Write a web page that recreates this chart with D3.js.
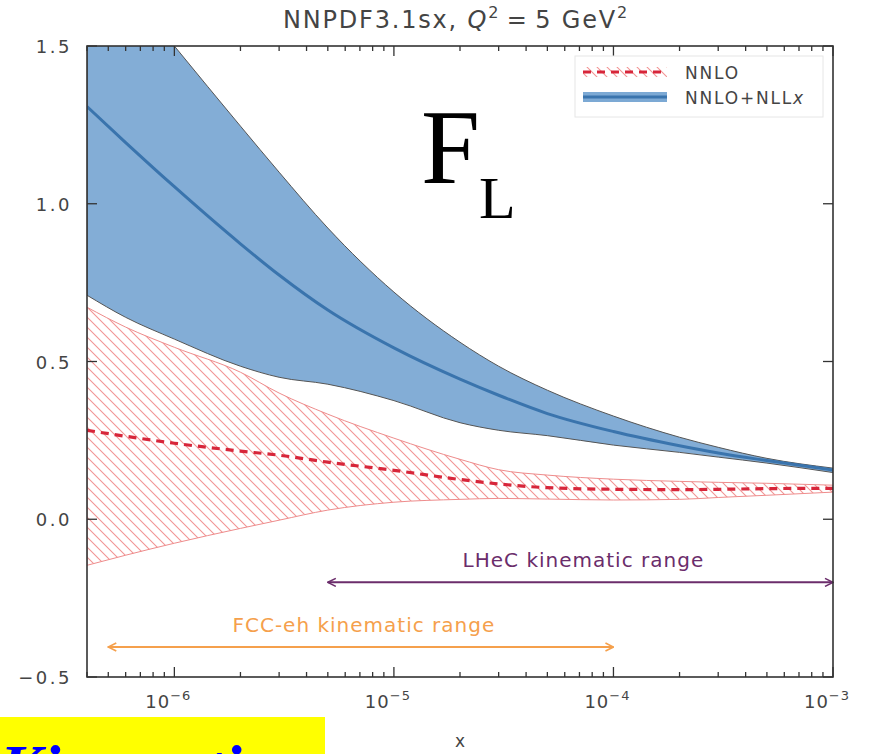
<!DOCTYPE html>
<html>
<head>
<meta charset="utf-8">
<script src="https://cdn.jsdelivr.net/npm/d3@7"></script>
<style>
  body { margin: 0; background: #fff; }
  svg { display: block; }
  text { font-family: "DejaVu Sans", sans-serif; fill: #444; }
</style>
</head>
<body>
<svg id="chart" width="874" height="754"></svg>
<script>
// x grid
var xs = [4e-7, 6e-7, 1e-6, 2e-6, 3e-6, 5e-6, 1e-5, 2e-5, 3e-5, 5e-5, 1e-4, 2e-4, 3e-4, 5e-4, 1e-3];
// NNLO+NLLx band
var resUp  = [1.84, 1.69, 1.50, 1.246, 1.10, 0.923, 0.72, 0.561, 0.485, 0.409, 0.327, 0.26, 0.228, 0.193, 0.162];
var resMid = [1.308, 1.194, 1.054, 0.873, 0.774, 0.663, 0.543, 0.444, 0.393, 0.335, 0.278, 0.233, 0.21, 0.186, 0.156];
var resLo  = [0.71, 0.64, 0.571, 0.485, 0.45, 0.428, 0.376, 0.306, 0.282, 0.265, 0.235, 0.212, 0.197, 0.178, 0.148];
// NNLO band
var nnloUp  = [0.672, 0.609, 0.545, 0.466, 0.40, 0.333, 0.257, 0.19, 0.157, 0.14, 0.127, 0.12, 0.117, 0.114, 0.108];
var nnloMid = [0.282, 0.263, 0.241, 0.216, 0.203, 0.181, 0.155, 0.126, 0.112, 0.1, 0.095, 0.094, 0.095, 0.097, 0.098];
var nnloLo  = [-0.146, -0.114, -0.076, -0.029, -0.003, 0.029, 0.054, 0.063, 0.066, 0.064, 0.061, 0.063, 0.069, 0.076, 0.086];

var yTicks = [-0.5, 0.0, 0.5, 1.0, 1.5];
var xMajor = [1e-6, 1e-5, 1e-4, 1e-3];
var xMajorExp = ["\u22126", "\u22125", "\u22124", "\u22123"];
// kinematic ranges: xmin, xmax, arrow y, label, colour, label y
var ranges = [
  [5e-6, 1e-3, -0.2, "LHeC kinematic range", "#6b2d6b", -0.152],
  [5e-7, 1e-4, -0.405, "FCC-eh kinematic range", "#f5a04c", -0.356]
];
var legendLabels = ["NNLO", "NNLO+NLL"];

var svg = d3.select("#chart");
var L = 87, R = 833, T = 46, B = 677;
var x = d3.scaleLog().domain([4e-7, 1e-3]).range([L, R]);
var y = d3.scaleLinear().domain([-0.5, 1.5]).range([B, T]);

var defs = svg.append("defs");
defs.append("clipPath").attr("id", "plotclip")
  .append("rect").attr("x", L).attr("y", T).attr("width", R - L).attr("height", B - T);
var hatch = defs.append("pattern").attr("id", "hatch")
  .attr("patternUnits", "userSpaceOnUse").attr("width", 10).attr("height", 10);
hatch.append("path").attr("d", "M0,0 L10,10 M-5,5 L5,15 M5,-5 L15,5")
  .attr("stroke", "#f29494").attr("stroke-width", 1.1);

var plot = svg.append("g").attr("clip-path", "url(#plotclip)");

function band(lo, hi) {
  return d3.area().curve(d3.curveMonotoneX)
    .x(function (d, i) { return x(xs[i]); })
    .y0(function (d, i) { return y(lo[i]); })
    .y1(function (d, i) { return y(hi[i]); })(xs);
}
function curve(v) {
  return d3.line().curve(d3.curveMonotoneX)
    .x(function (d, i) { return x(xs[i]); })
    .y(function (d, i) { return y(v[i]); })(xs);
}

// NNLO hatched band
plot.append("path").attr("d", band(nnloLo, nnloUp))
  .attr("fill", "url(#hatch)").attr("stroke", "#ee8c8c").attr("stroke-width", 1);

// NNLO+NLLx band
plot.append("path").attr("d", band(resLo, resUp))
  .attr("fill", "#7ca9d4").attr("fill-opacity", 0.95)
  .attr("stroke", "#555").attr("stroke-width", 1);
plot.append("path").attr("d", curve(resMid))
  .attr("fill", "none").attr("stroke", "#3a74ad").attr("stroke-width", 3);

plot.append("path").attr("d", curve(nnloMid))
  .attr("fill", "none").attr("stroke", "#d7263a").attr("stroke-width", 3.2)
  .attr("stroke-dasharray", "8,6");

// kinematic range arrows
ranges.forEach(function (r, j) {
  var id = "ah" + j;
  ["s", "e"].forEach(function (k) {
    defs.append("marker").attr("id", id + k)
      .attr("viewBox", "0 0 10 10").attr("refX", k == "e" ? 9 : 1).attr("refY", 5)
      .attr("markerWidth", 10).attr("markerHeight", 10).attr("markerUnits", "userSpaceOnUse")
      .attr("orient", "auto")
      .append("path").attr("d", k == "e" ? "M1,1 L9,5 L1,9" : "M9,1 L1,5 L9,9")
      .attr("fill", "none").attr("stroke", r[4]).attr("stroke-width", 1.6);
  });
  svg.append("line")
    .attr("x1", x(r[0])).attr("x2", x(r[1])).attr("y1", y(r[2])).attr("y2", y(r[2]))
    .attr("stroke", r[4]).attr("stroke-width", 2)
    .attr("marker-start", "url(#" + id + "s)").attr("marker-end", "url(#" + id + "e)");
  svg.append("text")
    .attr("x", (x(r[0]) + x(r[1])) / 2 + 3)
    .attr("y", y(r[5]))
    .attr("text-anchor", "middle").style("font-size", "20px").style("letter-spacing", "1px")
    .style("fill", r[4])
    .text(r[3]);
});

// axes frame and ticks
svg.append("rect").attr("x", L).attr("y", T).attr("width", R - L).attr("height", B - T)
  .attr("fill", "none").attr("stroke", "#333").attr("stroke-width", 1.6);

var minor = [];
[-7, -6, -5, -4].forEach(function (e) {
  for (var m = 2; m <= 9; m++) {
    var v = m * Math.pow(10, e);
    if (v >= 4e-7 && v <= 1e-3) minor.push(v);
  }
});
var ax = svg.append("g").attr("stroke", "#333").attr("stroke-width", 1.3);
xMajor.forEach(function (v) {
  ax.append("line").attr("x1", x(v)).attr("x2", x(v)).attr("y1", B).attr("y2", B - 10);
  ax.append("line").attr("x1", x(v)).attr("x2", x(v)).attr("y1", T).attr("y2", T + 10);
});
minor.forEach(function (v) {
  ax.append("line").attr("x1", x(v)).attr("x2", x(v)).attr("y1", B).attr("y2", B - 5);
  ax.append("line").attr("x1", x(v)).attr("x2", x(v)).attr("y1", T).attr("y2", T + 5);
});
yTicks.forEach(function (v) {
  ax.append("line").attr("x1", L).attr("x2", L + 10).attr("y1", y(v)).attr("y2", y(v));
  ax.append("line").attr("x1", R).attr("x2", R - 10).attr("y1", y(v)).attr("y2", y(v));
  svg.append("text").attr("x", 72).attr("y", y(v) + 7).attr("text-anchor", "end")
    .style("font-size", "18px").style("letter-spacing", "2.5px")
    .text(v < 0 ? "\u2212" + Math.abs(v).toFixed(1) : v.toFixed(1));
});
xMajor.forEach(function (v, i) {
  var t = svg.append("text").attr("x", x(v) - 6).attr("y", 708).attr("text-anchor", "middle")
    .style("font-size", "18px").style("letter-spacing", "1px");
  t.append("tspan").text("10");
  t.append("tspan").attr("dy", -8).style("font-size", "13px").text(xMajorExp[i]);
});
svg.append("text").attr("x", 460).attr("y", 747).attr("text-anchor", "middle")
  .style("font-size", "17px").text("x");

// title
var title = svg.append("text").attr("x", 456).attr("y", 28).attr("text-anchor", "middle")
  .style("font-size", "24px").style("letter-spacing", "1.8px");
title.append("tspan").text("NNPDF3.1sx, ");
title.append("tspan").style("font-style", "italic").text("Q");
title.append("tspan").attr("dy", -10).style("font-size", "16px").text("2");
title.append("tspan").attr("dy", 10).text("\u2009=\u20095 GeV");
title.append("tspan").attr("dy", -10).style("font-size", "16px").text("2");

// legend
var lg = svg.append("g");
lg.append("rect").attr("x", 575).attr("y", 56).attr("width", 248).attr("height", 61)
  .attr("fill", "#fff").attr("stroke", "#e6e6e6");
lg.append("rect").attr("x", 583).attr("y", 67).attr("width", 84).attr("height", 10)
  .attr("fill", "url(#hatch)");
lg.append("line").attr("x1", 583).attr("x2", 667).attr("y1", 72).attr("y2", 72)
  .attr("stroke", "#d7263a").attr("stroke-width", 3).attr("stroke-dasharray", "8,6");
lg.append("rect").attr("x", 583).attr("y", 92).attr("width", 84).attr("height", 10)
  .attr("fill", "#7ca9d4");
lg.append("line").attr("x1", 583).attr("x2", 667).attr("y1", 97).attr("y2", 97)
  .attr("stroke", "#3a74ad").attr("stroke-width", 3);
lg.append("text").attr("x", 685).attr("y", 79).style("font-size", "17px")
  .style("letter-spacing", "1.8px").text(legendLabels[0]);
var l2 = lg.append("text").attr("x", 685).attr("y", 104).style("font-size", "17px")
  .style("letter-spacing", "1.8px");
l2.append("tspan").text(legendLabels[1]);
l2.append("tspan").style("font-style", "italic").text("x");

// big F_L label
svg.append("text").attr("x", 421).attr("y", 183)
  .style("font-family", "'Liberation Serif', serif").style("font-size", "106px").style("fill", "#000")
  .text("F");
svg.append("text").attr("x", 479).attr("y", 218)
  .style("font-family", "'Liberation Serif', serif").style("font-size", "60px").style("fill", "#000")
  .text("L");

// yellow banner cut at the bottom
svg.append("rect").attr("x", 0).attr("y", 717).attr("width", 325).attr("height", 40).attr("fill", "#ffff00");
svg.append("text").attr("x", 0).attr("y", 789)
  .style("font-family", "'Liberation Serif', serif").style("font-weight", "bold")
  .style("font-style", "italic").style("font-size", "64px").style("fill", "#0000ff")
  .text("Kinematics");
</script>
</body>
</html>
